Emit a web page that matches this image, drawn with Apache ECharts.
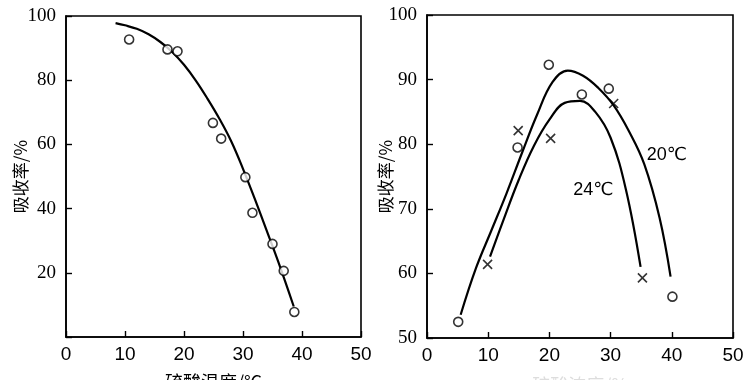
<!DOCTYPE html>
<html><head><meta charset="utf-8">
<script src="https://cdn.jsdelivr.net/npm/echarts@6/dist/echarts.min.js"></script>
<style>html,body{margin:0;padding:0;background:#fff}#c{width:750px;height:380px}</style>
</head><body><div id="c"></div>
<script>
// Left chart: absorption vs acid temperature
const leftPointsX = [10.7, 17.2, 18.9, 24.9, 26.3, 30.4, 31.6, 35.0, 36.9, 38.7];
const leftPointsY = [92.7, 89.6, 89.0, 66.7, 61.8, 49.8, 38.7, 29.0, 20.6, 7.8];
const leftCurveX = [8.4, 10, 12, 14, 16, 18, 20, 22, 24, 26, 28, 30, 32, 34, 36, 38.6];
const leftCurveY = [97.8, 97.1, 96.0, 94.3, 91.9, 88.8, 84.8, 79.9, 74.2, 68.0, 61.0, 52.4, 43.0, 33.2, 23.3, 9.5];

// Right chart: 20℃ (circles) and 24℃ (crosses)
const circX = [5.1, 14.8, 19.9, 25.3, 29.7, 40.1];
const circY = [52.5, 79.5, 92.3, 87.7, 88.6, 56.4];
const crossX = [9.9, 14.9, 20.2, 30.5, 35.2];
const crossY = [61.4, 82.1, 80.9, 86.3, 59.3];
const curve20X = [5.5, 8, 10.5, 13, 15.5, 18, 20.5, 23, 25.5, 28, 30.5, 33, 35.5, 38, 39.8];
const curve20Y = [53.6, 60.8, 66.6, 72.4, 78.6, 84.6, 89.6, 91.4, 90.6, 88.7, 86.0, 82.0, 76.9, 68.6, 59.5];
const curve24X = [10.3, 12.5, 15, 17.5, 20, 22.5, 25, 27.5, 30, 32.5, 34.9];
const curve24Y = [62.6, 68.3, 74.5, 79.8, 83.8, 86.4, 86.7, 85.0, 81.0, 73.0, 61.0];

const xTicks = [0, 10, 20, 30, 40, 50];
const yTicksLeft = [0, 20, 40, 60, 80, 100];
const yTicksRight = [50, 60, 70, 80, 90, 100];
const curveLabels = ['20℃', '24℃'];

const zip = (a, b) => a.map((v, i) => [v, b[i]]);
const crossPath = 'path://M0,0L10,10M10,0L0,10';
const SERIF = '"Liberation Serif", "Times New Roman", "DejaVu Serif", serif';
const SANS = '"Liberation Sans", Arial, "DejaVu Sans", sans-serif';

const xAxisCommon = (gi, name) => ({
  type: 'value', gridIndex: gi, min: xTicks[0], max: xTicks[xTicks.length - 1], interval: 10,
  axisLine: { show: true, lineStyle: { color: '#000', width: 1.6 } },
  axisTick: { show: true, inside: true, length: 6, lineStyle: { color: '#000', width: 1.4 } },
  axisLabel: { color: '#000', fontSize: 19, fontFamily: SANS, margin: 8 },
  splitLine: { show: false },
  name: name, nameLocation: 'middle', nameGap: gi === 0 ? 36 : 38, nameMoveOverlap: false,
  nameTextStyle: { color: gi === 0 ? '#000' : '#ddd', fontSize: 18, fontFamily: 'Noto Sans CJK SC' }
});
const yAxisCommon = (gi, ticks, gap, hideMin) => ({
  type: 'value', gridIndex: gi, min: ticks[0], max: ticks[ticks.length - 1], interval: ticks[1] - ticks[0],
  axisLine: { show: true, lineStyle: { color: '#000', width: 1.6 } },
  axisTick: { show: true, inside: true, length: 6, lineStyle: { color: '#000', width: 1.4 } },
  axisLabel: { color: '#000', fontSize: 19, fontFamily: SERIF, margin: 10,
    formatter: v => (hideMin && v === ticks[0]) ? '' : String(v) },
  splitLine: { show: false },
  name: '吸收率/%', nameLocation: 'middle', nameRotate: 90, nameGap: gap, nameMoveOverlap: false,
  nameTextStyle: { color: '#000', fontSize: 17, fontFamily: 'Noto Sans CJK SC' }
});

const circleStyle = { color: '#fff', borderColor: '#000', borderWidth: 1.6 };
const lineStyle = { color: '#000', width: 2.2 };

const option = {
  animation: false,
  backgroundColor: '#fff',
  grid: [
    { left: 66, right: 389, top: 16, bottom: 43, show: true, borderColor: '#000', borderWidth: 1.6,
      containLabel: false, outerBoundsMode: 'none' },
    { left: 427, right: 17, top: 15, bottom: 42, show: true, borderColor: '#000', borderWidth: 1.6,
      containLabel: false, outerBoundsMode: 'none' }
  ],
  xAxis: [xAxisCommon(0, '硫酸温度/℃'), xAxisCommon(1, '硫酸浓度/%')],
  yAxis: [yAxisCommon(0, yTicksLeft, 37, true), yAxisCommon(1, yTicksRight, 33, false)],
  series: [
    { type: 'line', xAxisIndex: 0, yAxisIndex: 0, data: zip(leftCurveX, leftCurveY), smooth: 0.4,
      showSymbol: false, lineStyle: lineStyle, z: 2 },
    { type: 'scatter', xAxisIndex: 0, yAxisIndex: 0, data: zip(leftPointsX, leftPointsY),
      symbol: 'circle', symbolSize: 9, itemStyle: circleStyle, z: 3 },
    { type: 'line', xAxisIndex: 1, yAxisIndex: 1, data: zip(curve20X, curve20Y), smooth: 0.4,
      showSymbol: false, lineStyle: lineStyle, z: 2,
      markPoint: { symbol: 'circle', symbolSize: 0, silent: true,
        data: [{ coord: [39.2, 78.3], value: curveLabels[0] }],
        label: { show: true, formatter: curveLabels[0], color: '#000', fontSize: 18, fontFamily: SANS } } },
    { type: 'line', xAxisIndex: 1, yAxisIndex: 1, data: zip(curve24X, curve24Y), smooth: 0.4,
      showSymbol: false, lineStyle: lineStyle, z: 2,
      markPoint: { symbol: 'circle', symbolSize: 0, silent: true,
        data: [{ coord: [27.2, 72.9], value: curveLabels[1] }],
        label: { show: true, formatter: curveLabels[1], color: '#000', fontSize: 18, fontFamily: SANS } } },
    { type: 'scatter', xAxisIndex: 1, yAxisIndex: 1, data: zip(circX, circY),
      symbol: 'circle', symbolSize: 9, itemStyle: circleStyle, z: 3 },
    { type: 'scatter', xAxisIndex: 1, yAxisIndex: 1, data: zip(crossX, crossY),
      symbol: crossPath, symbolSize: 9, itemStyle: { color: 'none', borderColor: '#000', borderWidth: 1.6 }, z: 3 }
  ]
};
const chart = echarts.init(document.getElementById('c'), null, { renderer: 'canvas' });
chart.setOption(option);
</script></body></html>
